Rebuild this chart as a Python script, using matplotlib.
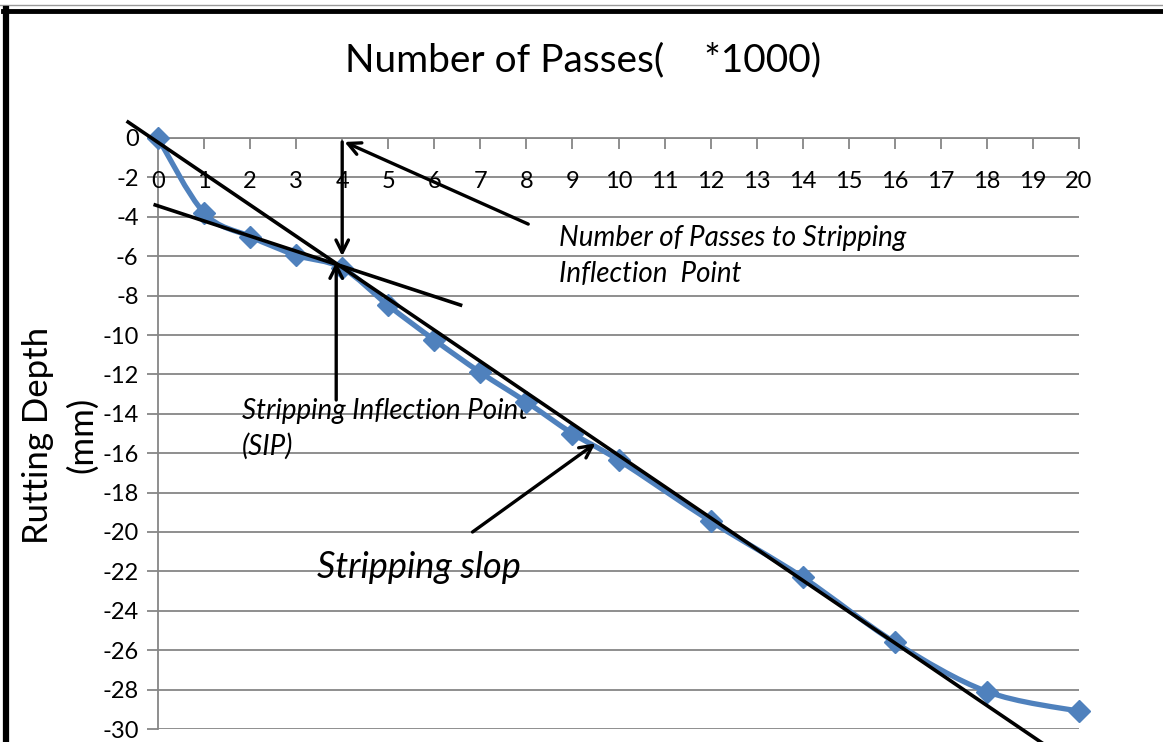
import numpy as np
import matplotlib
matplotlib.use("Agg")
import matplotlib.pyplot as plt
from matplotlib.path import Path
from matplotlib.patches import PathPatch
from matplotlib.lines import Line2D

# ---- data ----
passes = [0, 1, 2, 3, 4, 5, 6, 7, 8, 9, 10, 12, 14, 16, 18, 20]
rut_depth = [0, -3.8, -5.0, -5.95, -6.6, -8.5, -10.25, -11.9, -13.4, -15.0,
             -16.35, -19.45, -22.3, -25.6, -28.1, -29.1]
x_ticks = list(range(0, 21))
y_ticks = list(range(-30, 1, 2))

# tangent lines (endpoints in data units)
slope_line_x = [-0.65, 19.3]
slope_line_y = [0.81, -30.87]
creep_line_x = [-0.06, 6.57]
creep_line_y = [-3.4, -8.48]

title = "Number of Passes(    *1000)"
ylabel = "Rutting Depth\n(mm)"

plt.rcParams['font.family'] = ['Lato', 'DejaVu Sans']

fig = plt.figure(figsize=(11.63, 7.42), dpi=100)
ax = fig.add_axes([158 / 1163, 1 - 729 / 742, (1079 - 158) / 1163, (729 - 138) / 742])
ax.set_xlim(0, 20)
ax.set_ylim(-30, 0)

grid_c = '#868686'
for s in ['right', 'bottom']:
    ax.spines[s].set_visible(False)
for s in ['left', 'top']:
    ax.spines[s].set_color(grid_c)
    ax.spines[s].set_linewidth(1.3)

ax.set_yticks(y_ticks)
ax.set_yticklabels([str(v) for v in y_ticks], fontsize=17)
ax.tick_params(axis='y', direction='out', length=8, color=grid_c, width=1.3, pad=6)
ax.yaxis.grid(True, color=grid_c, lw=1.3)
ax.set_axisbelow(True)

ax.xaxis.tick_top()
ax.set_xticks(x_ticks)
ax.set_xticklabels([])
ax.tick_params(axis='x', direction='in', length=8, color=grid_c, width=1.3)
for t in x_ticks:
    ax.text(t, -2.2, str(t), ha='center', va='center', fontsize=17)

# smoothed series (Catmull-Rom Bezier through data points)
pts = np.column_stack([passes, rut_depth]).astype(float)
verts = [tuple(pts[0])]
codes = [Path.MOVETO]
n = len(pts)
for i in range(n - 1):
    p0 = pts[max(i - 1, 0)]
    p1 = pts[i]
    p2 = pts[i + 1]
    p3 = pts[min(i + 2, n - 1)]
    c1 = p1 + (p2 - p0) / 6.0
    c2 = p2 - (p3 - p1) / 6.0
    verts += [tuple(c1), tuple(c2), tuple(p2)]
    codes += [Path.CURVE4] * 3
ax.add_patch(PathPatch(Path(verts, codes), fc='none', ec='#4F81BD', lw=3.8, zorder=3))
ax.plot(passes, rut_depth, ls='none', marker='D', ms=11, color='#4F81BD', zorder=4,
        clip_on=False)

# tangent lines
ax.plot(slope_line_x, slope_line_y, color='black', lw=2.6, clip_on=False, zorder=5)
ax.plot(creep_line_x, creep_line_y, color='black', lw=2.6, clip_on=False, zorder=5)

arrow = dict(arrowstyle='->,head_length=0.9,head_width=0.45', color='black', lw=2.4,
             shrinkA=0, shrinkB=0)
ax.annotate('', xy=(4.05, -0.2), xytext=(8.04, -4.37), arrowprops=arrow, zorder=6)
ax.annotate('', xy=(4.0, -6.0), xytext=(4.0, -0.2), arrowprops=arrow, zorder=6)
ax.annotate('', xy=(3.87, -6.3), xytext=(3.87, -13.3), arrowprops=arrow, zorder=6)
ax.annotate('', xy=(9.5, -15.5), xytext=(6.83, -20.0), arrowprops=arrow, zorder=6)

ax.text(8.7, -6.0, "Number of Passes to Stripping\nInflection  Point", fontsize=20,
        style='italic', ha='left', va='center', linespacing=1.45)
ax.text(1.83, -14.75, "Stripping Inflection Point\n(SIP)", fontsize=20,
        style='italic', ha='left', va='center', linespacing=1.4)
ax.text(3.45, -21.8, "Stripping slop", fontsize=26, style='italic',
        ha='left', va='center')

fig.text(583 / 1163, 1 - 60 / 742, title, fontsize=28, ha='center', va='center')
fig.text(60 / 1163, 1 - 435 / 742, ylabel, fontsize=25, rotation=90,
         ha='center', va='center', linespacing=1.45, multialignment='center')

# frame lines
fig.add_artist(Line2D([0, 1], [1 - 5 / 742, 1 - 5 / 742], color='#999999', lw=1,
                      transform=fig.transFigure))
fig.add_artist(Line2D([3 / 1163, 1], [1 - 11 / 742, 1 - 11 / 742], color='black', lw=3.5,
                      transform=fig.transFigure))
fig.add_artist(Line2D([6 / 1163, 6 / 1163], [0, 1 - 9 / 742], color='black', lw=4.5,
                      transform=fig.transFigure))

fig.savefig('out.png', dpi=100)
